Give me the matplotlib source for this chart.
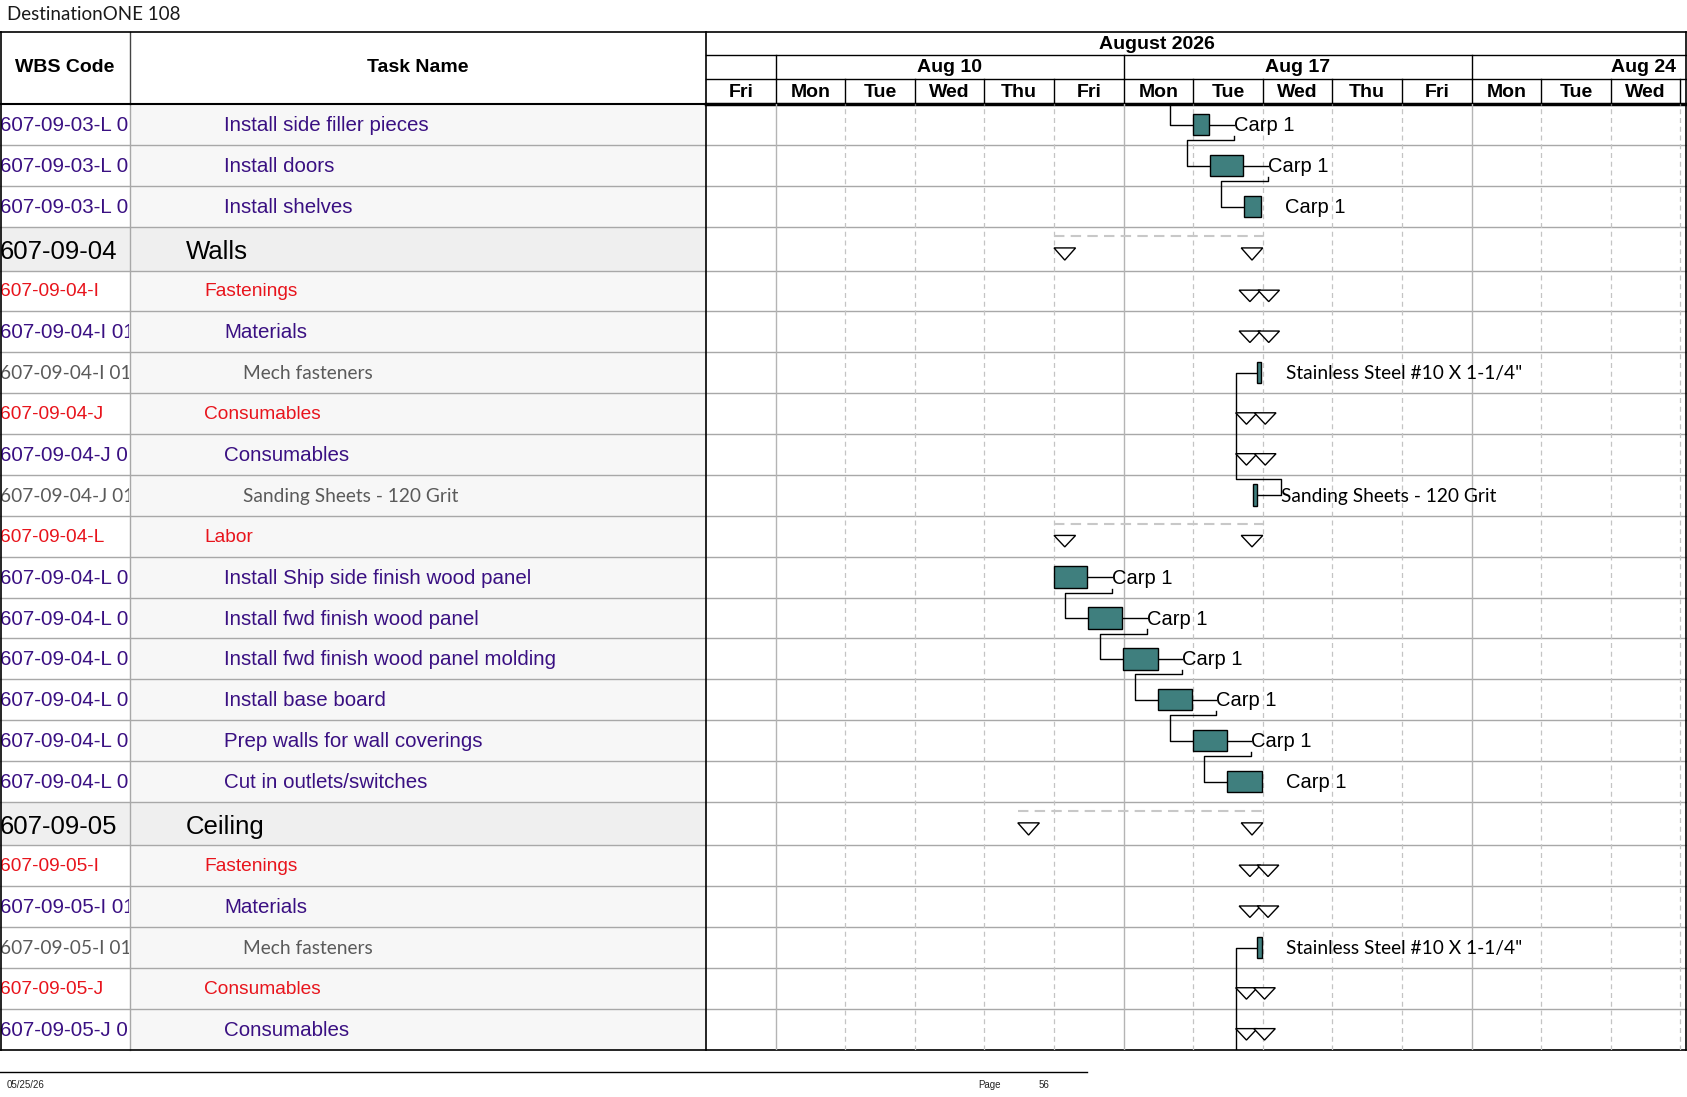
import matplotlib
matplotlib.use('Agg')
import matplotlib.pyplot as plt
from matplotlib.patches import Rectangle, Polygon
from matplotlib.transforms import Bbox, TransformedBbox
import numpy as np

# ---- data ----
wbs_codes = ["607-09-03-L 01-03", "607-09-03-L 01-04", "607-09-03-L 01-05",
             "607-09-04", "607-09-04-I", "607-09-04-I 01", "607-09-04-I 01-01",
             "607-09-04-J", "607-09-04-J 01", "607-09-04-J 01-01", "607-09-04-L",
             "607-09-04-L 01-01", "607-09-04-L 01-02", "607-09-04-L 01-03",
             "607-09-04-L 01-04", "607-09-04-L 01-05", "607-09-04-L 01-06",
             "607-09-05", "607-09-05-I", "607-09-05-I 01", "607-09-05-I 01-01",
             "607-09-05-J", "607-09-05-J 01"]
task_names = ["Install side filler pieces", "Install doors", "Install shelves",
              "Walls", "Fastenings", "Materials", "Mech fasteners",
              "Consumables", "Consumables", "Sanding Sheets - 120 Grit", "Labor",
              "Install Ship side finish wood panel", "Install fwd finish wood panel",
              "Install fwd finish wood panel molding", "Install base board",
              "Prep walls for wall coverings", "Cut in outlets/switches",
              "Ceiling", "Fastenings", "Materials", "Mech fasteners",
              "Consumables", "Consumables"]
levels = [2, 2, 2, 0, 1, 2, 3, 1, 2, 3, 1, 2, 2, 2, 2, 2, 2, 0, 1, 2, 3, 1, 2]

# working days from Fri Aug 7 2026 (0 = start of Fri Aug 7)
bar_start = [6.99, 7.24, 7.73, None, None, None, 7.92, None, None, 7.865, None,
             5.00, 5.49, 5.995, 6.50, 6.99, 7.49, None, None, None, 7.92, None, None]
bar_finish = [7.23, 7.72, 7.97, None, None, None, 7.98, None, None, 7.913, None,
              5.48, 5.98, 6.49, 6.98, 7.48, 7.99, None, None, None, 7.99, None, None]
sum_start = [None, None, None, 5.00, 7.66, 7.66, None, 7.61, 7.61, None, 5.00,
             None, None, None, None, None, None, 4.48, 7.66, 7.66, None, 7.61, 7.61]
sum_finish = [None, None, None, 8.00, 8.24, 8.24, None, 8.19, 8.19, None, 8.00,
              None, None, None, None, None, None, 8.00, 8.23, 8.23, None, 8.18, 8.18]
rollup_rows = [3, 10, 17]
res_labels = ["Carp 1", "Carp 1", "Carp 1", "", "", "", 'Stainless Steel #10 X 1-1/4"',
              "", "", "Sanding Sheets - 120 Grit", "",
              "Carp 1", "Carp 1", "Carp 1", "Carp 1", "Carp 1", "Carp 1",
              "", "", "", 'Stainless Steel #10 X 1-1/4"', "", ""]
# (predecessor, successor, kind); -1 = task off the page
links = [(-1, 0, 'FS'), (0, 1, 'FS'), (1, 2, 'FS'), (6, 9, 'SF'),
         (11, 12, 'FS'), (12, 13, 'FS'), (13, 14, 'FS'), (14, 15, 'FS'),
         (15, 16, 'FS'), (20, -1, 'SF')]

day_names = ["Fri", "Mon", "Tue", "Wed", "Thu", "Fri", "Mon", "Tue", "Wed",
             "Thu", "Fri", "Mon", "Tue", "Wed"]
week_labels = ["Aug 10", "Aug 17", "Aug 24"]
week_first = [1, 6, 11]
month_label = "August 2026"
month_center = 6.48

# ---- layout ----
W, H = 1687, 1097
X_WBS, X_TASK, X_GANTT, X_RIGHT = 0, 130, 706, 1686
Y_TOP, Y_H1, Y_H2, Y_DATA = 32, 55, 79, 104.4
DAY_PX = 69.6
LBL_GAP = 0.35

row_h = np.array([43.5 if lv == 0 else 40.88 for lv in levels])
row_top = Y_DATA + np.concatenate([[0], np.cumsum(row_h)[:-1]])
Y_BOT = Y_DATA + row_h.sum()
row_c = row_top + row_h / 2

purple = '#3a1082'
red = '#e8141c'
gray = '#5a5a5a'
teal = '#3f7f7e'
gridc = '#a8a8a8'

fig = plt.figure(figsize=(W / 100, H / 100), dpi=100)
ax = fig.add_axes([0, 0, 1, 1])
ax.set_xlim(0, W)
ax.set_ylim(H, 0)
ax.axis('off')

# title
ax.text(7, 15, "DestinationONE 108", fontsize=13.5, family='Lato',
        va='center', ha='left', color='#1a1a1a')

# left table backgrounds
for i, lv in enumerate(levels):
    bg = '#efefef' if lv == 0 else '#f7f7f7'
    ax.add_patch(Rectangle((X_TASK, row_top[i]), X_GANTT - X_TASK, row_h[i],
                           facecolor=bg, edgecolor='none', zorder=0))
    if lv == 0:
        ax.add_patch(Rectangle((X_WBS, row_top[i]), X_TASK - X_WBS, row_h[i],
                               facecolor=bg, edgecolor='none', zorder=0))

# header text
hdr = dict(fontsize=14, fontweight='bold', family='Liberation Sans',
           ha='center', va='center', color='black')
ax.text((X_WBS + X_TASK) / 2, 67, "WBS Code", **hdr)
ax.text((X_TASK + X_GANTT) / 2, 67, "Task Name", **hdr)

# table text
indent = {0: 186, 1: 204, 2: 224, 3: 243}
clipbox = TransformedBbox(Bbox([[X_WBS, 0], [X_TASK - 1, H]]), ax.transData)
for i, lv in enumerate(levels):
    dy = 1
    if lv == 0:
        st = dict(fontsize=18.5, color='black', family='Liberation Sans')
        dy = 3
    elif lv == 1:
        st = dict(fontsize=13.8, color=red, family='Liberation Sans')
    elif lv == 2:
        st = dict(fontsize=14.8, color=purple, family='Liberation Sans')
    else:
        st = dict(fontsize=13.8, color=gray, family='Lato')
    t = ax.text(X_WBS, row_c[i] + dy, wbs_codes[i], va='center', ha='left', **st)
    t.set_clip_box(clipbox)
    t.set_clip_on(True)
    ax.text(indent[lv], row_c[i] + dy, task_names[i], va='center', ha='left', **st)

# table lines
for y in row_top[1:]:
    ax.plot([X_WBS, X_RIGHT], [y, y], color=gridc, lw=1, zorder=1)
ax.plot([X_TASK, X_TASK], [Y_DATA, Y_BOT], color=gridc, lw=1, zorder=1)
ax.plot([X_TASK, X_TASK], [Y_TOP, Y_DATA], color='#444444', lw=1, zorder=1)
ax.plot([X_GANTT, X_GANTT], [Y_TOP, Y_BOT], color='black', lw=1.2, zorder=3)
ax.plot([X_WBS + 0.5, X_WBS + 0.5], [Y_TOP, Y_BOT], color='black', lw=1.2, zorder=3)
ax.plot([X_RIGHT, X_RIGHT], [Y_TOP, Y_BOT], color='black', lw=1.2, zorder=3)
ax.plot([X_WBS, X_RIGHT], [Y_TOP, Y_TOP], color='black', lw=1.2, zorder=3)
ax.plot([X_WBS, X_RIGHT], [Y_BOT, Y_BOT], color='black', lw=1.2, zorder=3)
ax.plot([X_WBS, X_GANTT], [Y_DATA, Y_DATA], color='black', lw=1.5, zorder=3)
ax.plot([X_GANTT, X_RIGHT], [Y_DATA, Y_DATA], color='black', lw=2.5, zorder=3)
ax.plot([X_GANTT, X_RIGHT], [Y_H1, Y_H1], color='black', lw=1, zorder=3)
ax.plot([X_GANTT, X_RIGHT], [Y_H2, Y_H2], color='black', lw=1, zorder=3)

# footer
ax.plot([0, 1087], [1072, 1072], color='black', lw=1)
ft = dict(fontsize=7, family='Liberation Sans', va='center', ha='left', color='#222222')
ax.text(7, 1085, "05/25/26", **ft)
ax.text(978, 1085, "Page", **ft)
ax.text(1039, 1085, "56", **ft)

# ---- gantt header ----
ndays = (X_RIGHT - X_GANTT) / DAY_PX
hx = fig.add_axes([X_GANTT / W, 1 - Y_DATA / H, (X_RIGHT - X_GANTT) / W, (Y_DATA - Y_TOP) / H])
hx.set_xlim(0, ndays)
hx.set_ylim(Y_DATA, Y_TOP)
hx.axis('off')
hx.text(month_center, (Y_TOP + Y_H1) / 2 + 1, month_label, **hdr)
for k, lab in enumerate(week_labels):
    a = week_first[k]
    if a + 5 <= ndays:
        hx.text(a + 2.5, (Y_H1 + Y_H2) / 2 + 1, lab, **hdr)
    else:
        hx.text(ndays - 0.15, (Y_H1 + Y_H2) / 2 + 1, lab, **dict(hdr, ha='right'))
    hx.plot([a, a], [Y_H1, Y_H2], color='black', lw=1)
for d, nm in enumerate(day_names):
    hx.text(d + 0.5, (Y_H2 + Y_DATA) / 2 + 1, nm, **hdr)
    hx.plot([d + 1, d + 1], [Y_H2, Y_DATA], color='black', lw=1)

# ---- gantt body ----
gx = fig.add_axes([X_GANTT / W, 1 - Y_BOT / H, (X_RIGHT - X_GANTT) / W, (Y_BOT - Y_DATA) / H])
gx.set_xlim(0, ndays)
gx.set_ylim(Y_BOT, Y_DATA)
gx.axis('off')

for d in range(1, len(day_names) + 1):
    if d in week_first:
        gx.axvline(d, color='#b4b4b4', lw=1, zorder=0)
    else:
        gx.axvline(d, color='#c4c4c4', lw=0.9, ls=(0, (4, 3)), zorder=0)

TRI_W = 0.31
for i in range(len(levels)):
    top, h = row_top[i], row_h[i]
    if sum_start[i] is not None:
        s, f = sum_start[i], sum_finish[i]
        y0, y1 = top + 0.48 * h, top + 0.76 * h
        for a in (s, f - TRI_W):
            gx.add_patch(Polygon([(a, y0), (a + TRI_W, y0), (a + TRI_W / 2, y1)],
                                 closed=True, facecolor='white', edgecolor='black',
                                 lw=1, zorder=4))
    if bar_start[i] is not None:
        s, f = bar_start[i], bar_finish[i]
        gx.add_patch(Rectangle((s, top + 0.23 * h), f - s, 0.53 * h,
                               facecolor=teal, edgecolor='black', lw=1, zorder=4))
        if res_labels[i]:
            if levels[i] == 3:
                gx.text(f + LBL_GAP, row_c[i] + 1, res_labels[i], fontsize=13.8,
                        family='Lato', va='center', ha='left', color='black', zorder=5)
            else:
                gx.text(f + LBL_GAP, row_c[i] + 1, res_labels[i], fontsize=14.5,
                        family='Liberation Sans', va='center', ha='left',
                        color='black', zorder=5)

for i in rollup_rows:
    y = row_top[i] + 0.2 * row_h[i]
    gx.plot([sum_start[i], sum_finish[i]], [y, y], color='#c8c8c8', lw=1.5,
            ls=(0, (5, 3)), zorder=2)

for p, s, kind in links:
    if kind == 'FS':
        xs = bar_start[s]
        xv = xs - 0.33
        if p < 0:
            segs = [[(xv, row_top[s]), (xv, row_c[s]), (xs, row_c[s])]]
        else:
            lx = bar_finish[p] + LBL_GAP
            yb = row_top[p] + 0.88 * row_h[p]
            segs = [[(bar_finish[p], row_c[p]), (lx, row_c[p])],
                    [(lx, row_top[p] + 0.78 * row_h[p]), (lx, yb), (xv, yb),
                     (xv, row_c[s]), (xs, row_c[s])]]
    else:
        xv = bar_start[p] - 0.31
        if s < 0:
            segs = [[(bar_start[p], row_c[p]), (xv, row_c[p]), (xv, Y_BOT)]]
        else:
            lx = bar_finish[s] + LBL_GAP
            yt = row_top[s] + 0.1 * row_h[s]
            segs = [[(bar_start[p], row_c[p]), (xv, row_c[p]), (xv, yt), (lx, yt),
                     (lx, row_c[s]), (bar_finish[s], row_c[s])]]
    for seg in segs:
        xy = np.array(seg)
        gx.plot(xy[:, 0], xy[:, 1], color='black', lw=1, zorder=3)

fig.savefig('out.png', dpi=100)
